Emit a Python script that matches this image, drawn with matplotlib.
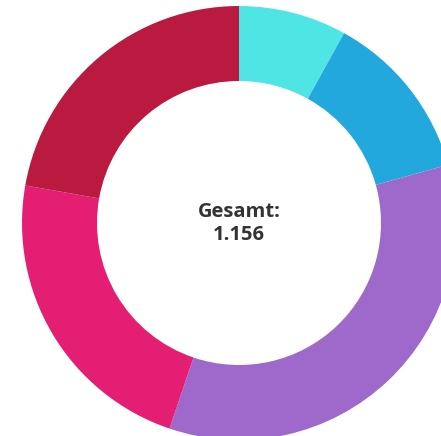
import matplotlib
matplotlib.use("Agg")
import matplotlib.pyplot as plt

# Werte im Uhrzeigersinn ab 12 Uhr
werte = [93, 146, 399, 261, 257]
farben = ['#4FE5E5', '#22A8DD', '#9E69CA', '#E31E73', '#BA1A40']
gesamt = "1.156"

fig = plt.figure(figsize=(4.41, 4.36), dpi=100)
# Mittelpunkt bei (239, 223) px, Außenradius 217 px
r_px = 217
cx, cy = 239, 223
ax = fig.add_axes([(cx - r_px) / 441, (436 - cy - r_px) / 436, 2 * r_px / 441, 2 * r_px / 436])
ax.pie(werte, colors=farben, startangle=90, counterclock=False, radius=1,
       wedgeprops=dict(width=1 - 142 / 217, linewidth=0))
ax.set_xlim(-1, 1)
ax.set_ylim(-1, 1)
ax.set_aspect('auto')
ax.axis('off')

ax.text(0, 0.05, "Gesamt:", ha='center', va='center', fontsize=14.5,
        fontweight='bold', color='#333333', family='Open Sans')
ax.text(0, -0.053, gesamt, ha='center', va='center', fontsize=14.5,
        fontweight='bold', color='#333333', family='Open Sans')

fig.savefig('out.png', dpi=100)
